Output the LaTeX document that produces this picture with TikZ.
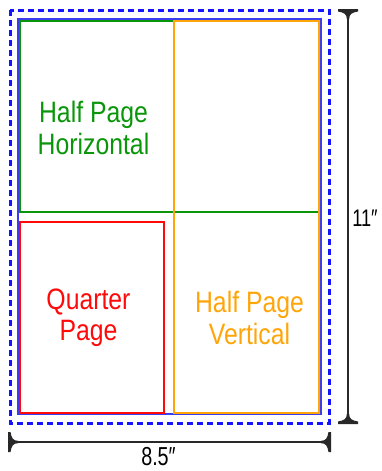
\documentclass[tikz,border=0pt]{standalone}
\usepackage{fontspec}
\setmainfont{Liberation Sans}[FakeStretch=0.84]
\newfontfamily\narrowfont{Liberation Sans}[FakeStretch=0.76]
\definecolor{dashblue}{RGB}{20,20,255}
\definecolor{pageblue}{RGB}{60,60,240}
\definecolor{hgreen}{RGB}{10,150,10}
\definecolor{qred}{RGB}{255,10,10}
\definecolor{vorange}{RGB}{255,165,10}
\definecolor{dimgray}{RGB}{40,40,40}
\tikzset{
  pagerect/.style={draw=pageblue, line width=2pt},
  outerrect/.style={draw=dashblue, line width=3pt, dash pattern=on 6pt off 4pt},
  adrect/.style={line width=2pt},
  adlabel/.style={align=center, font=\fontsize{29.5}{31.5}\selectfont},
  dimline/.style={draw=dimgray, line width=2pt},
  dimlabel/.style={font=\narrowfont\fontsize{26}{28}\selectfont, text=black, inner sep=0pt},
}
\begin{document}
\begin{tikzpicture}[x=1pt,y=-1pt]
\useasboundingbox (0,0) rectangle (382,471);
% outer dashed
\draw[outerrect] (10,10) rectangle (329,423);
% page
\draw[pagerect] (18,19) rectangle (321,414);
% half horizontal
\draw[adrect, draw=hgreen] (20,21) rectangle (319,212);
% quarter
\draw[adrect, draw=qred, line width=1.6pt] (20,222) rectangle (164,413);
% half vertical
\draw[adrect, draw=vorange] (174,21) rectangle (319,413);
% labels
\node[adlabel, text=hgreen] (hh) at (93.5,128) {Half Page\\Horizontal};
\node[adlabel, text=qred] (qp) at (88.5,318) {Quarter\\Page};
\node[adlabel, text=vorange] (hv) at (249.5,318) {Half Page\\Vertical};
% vertical dimension
\coordinate (vt) at (348,10);
\coordinate (vb) at (348,423);
\draw[dimline] (vt) -- (vb);
\fill[dimgray] (338,9) -- (358,9) -- (358,11.5) .. controls (352,12.5) and (349.2,14) .. (349.2,19) -- (346.8,19) .. controls (346.8,14) and (344,12.5) .. (338,11.5) -- cycle;
\fill[dimgray] (338,424) -- (358,424) -- (358,421.5) .. controls (352,420.5) and (349.2,419) .. (349.2,414) -- (346.8,414) .. controls (346.8,419) and (344,420.5) .. (338,421.5) -- cycle;
\node[dimlabel, font=\narrowfont\fontsize{24}{26}\selectfont, anchor=base] (vl) at (365,226) {11″};
% horizontal dimension
\coordinate (hl) at (9,442);
\coordinate (hr) at (330,442);
\draw[dimline] (hl) -- (hr);
\fill[dimgray] (8,432) -- (8,452) -- (10.5,452) .. controls (11.5,446) and (13,443.2) .. (18,443.2) -- (18,440.8) .. controls (13,440.8) and (11.5,438) .. (10.5,432) -- cycle;
\fill[dimgray] (331,432) -- (331,452) -- (328.5,452) .. controls (327.5,446) and (326,443.2) .. (321,443.2) -- (321,440.8) .. controls (326,440.8) and (327.5,438) .. (328.5,432) -- cycle;
\node[dimlabel, anchor=base] (hlab) at (158.5,465) {8.5″};
\end{tikzpicture}
\end{document}
